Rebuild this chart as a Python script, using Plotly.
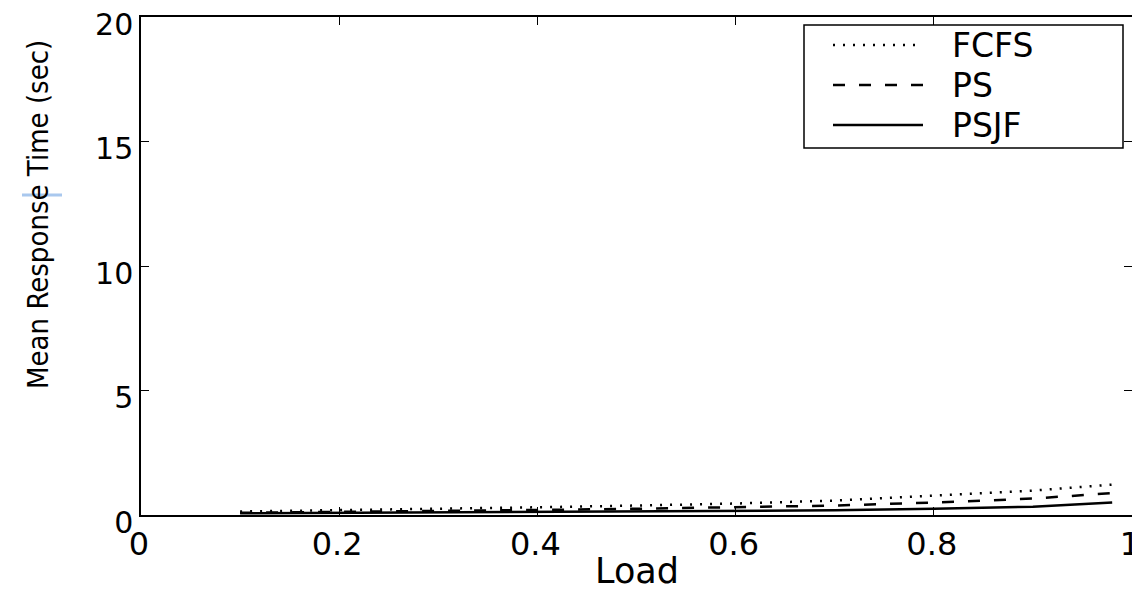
import plotly.graph_objects as go

load = [0.1, 0.2, 0.3, 0.4, 0.5, 0.6, 0.7, 0.8, 0.9, 0.98]
fcfs = [0.14, 0.19, 0.25, 0.31, 0.38, 0.46, 0.58, 0.78, 0.98, 1.22]
ps = [0.09, 0.12, 0.16, 0.20, 0.25, 0.30, 0.38, 0.50, 0.66, 0.88]
psjf = [0.07, 0.09, 0.11, 0.12, 0.14, 0.16, 0.19, 0.25, 0.33, 0.50]
series_names = ["FCFS", "PS", "PSJF"]
x_ticks = [0, 0.2, 0.4, 0.6, 0.8, 1]
x_tick_text = ["0", "0.2", "0.4", "0.6", "0.8", "1"]
y_ticks = [0, 5, 10, 15, 20]

FONT = "DejaVu Sans, Arial, sans-serif"
dashes = ["2px,8px", "12px,14px", "solid"]

# page offset of the plot div (browser body margin)
OFF = 8
W, H = 1140 - OFF, 590 - OFF
# plot area in page pixels: left 141, right 1132, top 17, bottom 515
L, R, T, B = 141 - OFF, 1132 - OFF, 17 - OFF, 515 - OFF
def px(xp):
    return (xp - OFF - L) / (R - L)
def py(yp):
    return (B - (yp - OFF)) / (B - T)

fig = go.Figure()
for name, vals, dash in zip(series_names, [fcfs, ps, psjf], dashes):
    fig.add_trace(go.Scatter(x=load, y=vals, mode="lines", name=name, showlegend=False,
                             line=dict(color="black", width=2.5, dash=dash)))

shapes = [dict(type="rect", xref="paper", yref="paper", x0=px(804), x1=px(1123), y0=py(148), y1=py(25),
               line=dict(color="black", width=1.5), fillcolor="white", layer="above")]
annotations = []
for i, (name, dash) in enumerate(zip(series_names, dashes)):
    ry = 45 + 40 * i
    shapes.append(dict(type="line", xref="paper", yref="paper", x0=px(833), x1=px(923), y0=py(ry), y1=py(ry),
                       line=dict(color="black", width=2.5, dash=dash), layer="above"))
    annotations.append(dict(text=name, xref="paper", yref="paper", x=px(950), y=py(ry + 1),
                            xanchor="left", yanchor="middle", showarrow=False,
                            font=dict(family=FONT, size=33, color="black")))

annotations.append(dict(text="Mean Response Time (sec)", textangle=-90,
                        xref="paper", yref="paper", x=px(38), y=py(215),
                        xanchor="center", yanchor="middle", showarrow=False,
                        font=dict(family="Liberation Sans Narrow, DejaVu Sans Condensed, Arial Narrow, sans-serif",
                                  size=29, color="black")))
annotations.append(dict(text="Load", xref="paper", yref="paper", x=0.5, y=py(571),
                        xanchor="center", yanchor="middle", showarrow=False,
                        font=dict(family=FONT, size=35, color="black")))
shapes.append(dict(type="line", xref="paper", yref="paper", x0=px(22), x1=px(62), y0=py(195), y1=py(195),
                   line=dict(color="#a9c8ee", width=3)))

fig.update_layout(
    width=W, height=H,
    margin=dict(l=L, r=W - R, t=T, b=H - B, autoexpand=False),
    paper_bgcolor="white", plot_bgcolor="white",
    showlegend=False,
    xaxis=dict(range=[0, 1], tickvals=x_ticks, ticktext=x_tick_text, automargin=False,
               showgrid=False, zeroline=False, showline=True, linecolor="black", linewidth=1.5,
               mirror="ticks", ticks="inside", ticklen=8, tickcolor="black",
               tickfont=dict(family=FONT, size=32, color="black"),
               ticklabeloverflow="allow", ticklabelshift=-2),
    yaxis=dict(range=[0, 20], tickvals=y_ticks, automargin=False,
               showgrid=False, zeroline=False, showline=True, linecolor="black", linewidth=1.5,
               mirror="ticks", ticks="inside", ticklen=8, tickcolor="black",
               tickfont=dict(family=FONT, size=30, color="black"),
               ticklabeloverflow="allow", ticklabelshift=7),
    annotations=annotations,
    shapes=shapes,
)

fig.write_html("out.html")
